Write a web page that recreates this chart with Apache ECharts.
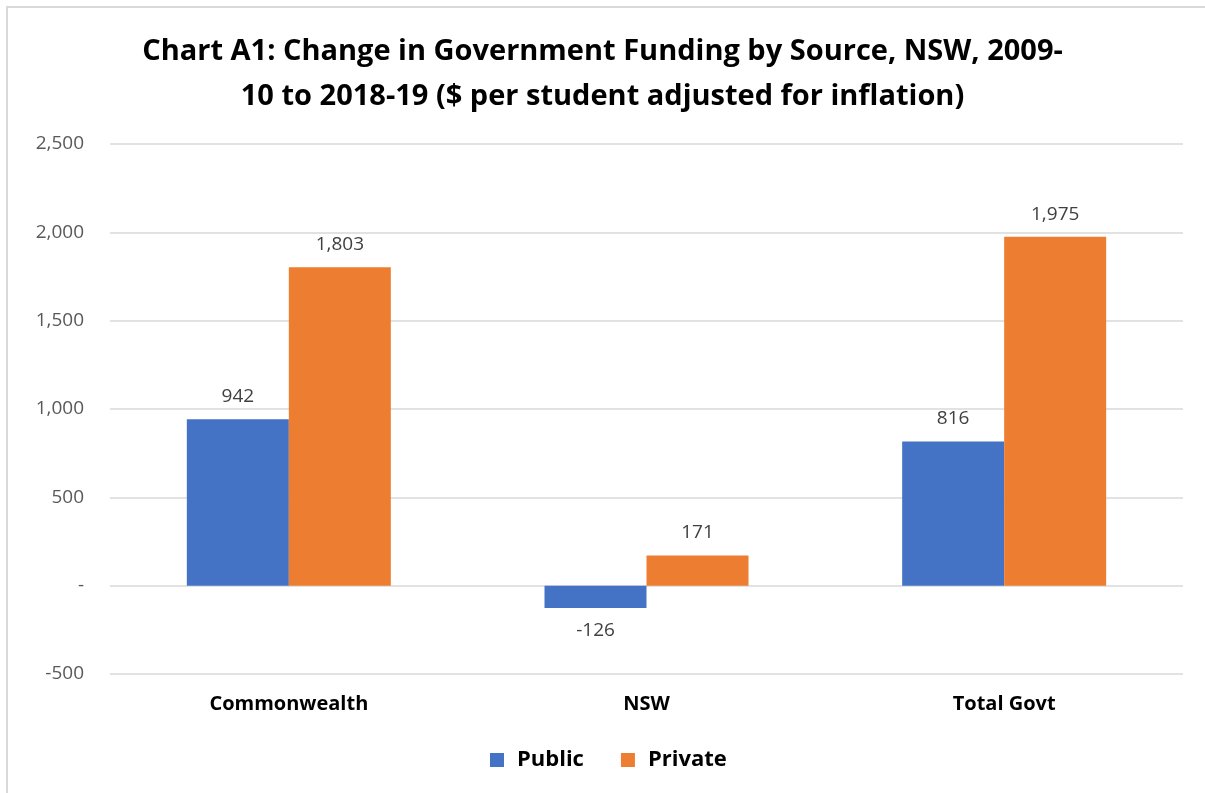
<!DOCTYPE html>
<html>
<head>
<meta charset="utf-8">
<script src="https://cdn.jsdelivr.net/npm/echarts@6/dist/echarts.min.js"></script>
<style>
  html, body { margin: 0; padding: 0; background: #fff; }
  #frame { position: absolute; left: 6px; top: 6px; width: 1210px; height: 800px; border: 2px solid #d9d9d9; box-sizing: border-box; }
  #chart { position: absolute; left: 0; top: 0; width: 1205px; height: 793px; }
</style>
</head>
<body>
<div id="frame"></div>
<div id="chart"></div>
<script>
var categories = ['Commonwealth', 'NSW', 'Total Govt'];
var publicValues = [942, -126, 816];
var privateValues = [1803, 171, 1975];
var yTicks = [-500, 0, 500, 1000, 1500, 2000, 2500];

function fmt(v) {
    if (v === 0) return '-';
    return v.toLocaleString('en-US');
}

function toItems(arr) {
    return arr.map(function (v) {
        return { value: v, label: { position: v < 0 ? 'bottom' : 'top' } };
    });
}

var myChart = echarts.init(document.getElementById('chart'));

var option = {
    backgroundColor: 'transparent',
    textStyle: { fontFamily: 'Open Sans' },
    title: {
        text: 'Chart A1: Change in Government Funding by Source, NSW, 2009-\n10 to 2018-19 ($ per student adjusted for inflation)',
        left: 'center',
        top: 24,
        textStyle: {
            fontFamily: 'Open Sans',
            fontWeight: 'bold',
            fontSize: 29,
            lineHeight: 45,
            color: '#000'
        }
    },
    legend: {
        data: ['Public', 'Private'],
        bottom: 17,
        left: 485,
        itemWidth: 14,
        itemHeight: 14,
        itemGap: 37,
        icon: 'rect',
        textStyle: { fontSize: 22, fontWeight: 'bold', color: '#000', padding: [0, 0, 0, 8] }
    },
    grid: { left: 110, right: 22, top: 144, bottom: 119, containLabel: false },
    xAxis: {
        type: 'category',
        data: categories,
        axisLine: { show: false },
        axisTick: { show: false },
        axisLabel: { fontSize: 20, fontWeight: 'bold', color: '#000', margin: 20 }
    },
    yAxis: {
        type: 'value',
        min: yTicks[0],
        max: yTicks[yTicks.length - 1],
        interval: 500,
        axisLine: { show: false },
        axisTick: { show: false },
        splitLine: { lineStyle: { color: '#d9d9d9', width: 1.5 } },
        axisLabel: { fontSize: 19, color: '#595959', margin: 26, formatter: fmt }
    },
    series: [
        {
            name: 'Public',
            type: 'bar',
            data: toItems(publicValues),
            barWidth: 102,
            barGap: '0%',
            itemStyle: { color: '#4472C4' },
            label: { show: true, fontSize: 19, color: '#404040', distance: 13, formatter: function (p) { return fmt(p.value); } }
        },
        {
            name: 'Private',
            type: 'bar',
            data: toItems(privateValues),
            barWidth: 102,
            barGap: '0%',
            itemStyle: { color: '#ED7D31' },
            label: { show: true, fontSize: 19, color: '#404040', distance: 13, formatter: function (p) { return fmt(p.value); } }
        }
    ]
};

myChart.setOption(option);
</script>
</body>
</html>
